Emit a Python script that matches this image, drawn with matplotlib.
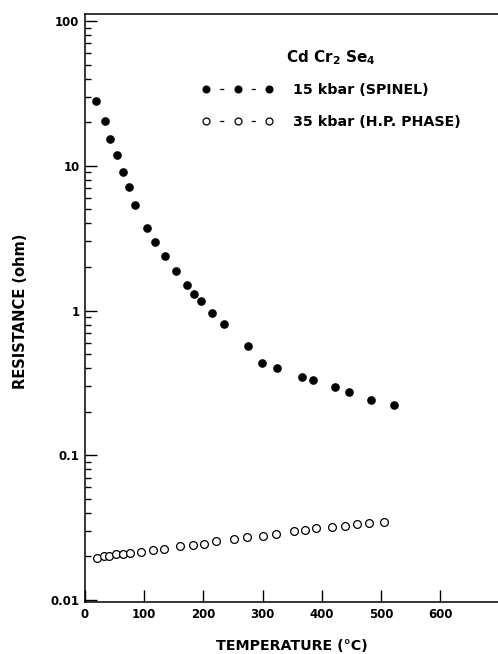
import matplotlib
matplotlib.use("Agg")
import matplotlib.pyplot as plt
from matplotlib.lines import Line2D
from matplotlib.ticker import FixedLocator, FixedFormatter, LogLocator, NullFormatter

# ---- data ----
spinel_T = [18, 34, 42, 54, 64, 75, 85, 105, 118, 135, 153, 173, 185, 196,
            214, 235, 275, 299, 324, 366, 386, 423, 447, 484, 523]
spinel_R = [28.0, 20.5, 15.2, 11.8, 9.06, 7.11, 5.38, 3.71, 2.97, 2.37, 1.87,
            1.49, 1.30, 1.16, 0.965, 0.813, 0.567, 0.435, 0.398, 0.350, 0.331,
            0.296, 0.274, 0.242, 0.223]
hp_T = [20, 32, 41, 53, 65, 76, 94, 115, 134, 160, 183, 201, 222, 252, 273,
        300, 323, 353, 372, 390, 418, 439, 459, 480, 505]
hp_R = [0.0196, 0.0200, 0.0203, 0.0207, 0.0209, 0.0211, 0.0213, 0.0220, 0.0224,
        0.0236, 0.0239, 0.0245, 0.0255, 0.0263, 0.0272, 0.0279, 0.0285, 0.0301,
        0.0307, 0.0314, 0.0322, 0.0326, 0.0334, 0.0340, 0.0348]
x_ticks = [0, 100, 200, 300, 400, 500, 600]
x_labels = ["0", "100", "200", "300", "400", "500", "600"]
y_ticks = [0.01, 0.1, 1, 10, 100]
y_labels = ["0.01", "0.1", "1", "10", "100"]
legend_title = "Cd Cr$_2$ Se$_4$"
label_spinel = "15 kbar (SPINEL)"
label_hp = "35 kbar (H.P. PHASE)"

plt.rcParams['font.family'] = ['DejaVu Sans']
plt.rcParams['font.weight'] = 'bold'
plt.rcParams['mathtext.default'] = 'bf'
plt.rcParams['lines.scale_dashes'] = False

fig = plt.figure(figsize=(4.98, 6.54), dpi=100)
ax = fig.add_axes([85/498, 1-602/654, 1-85/498, (602-14)/654])

ms = 5.2
ax.plot(spinel_T, spinel_R, 'o', color='k', ms=ms, mec='k', linestyle='none')
ax.plot(hp_T, hp_R, 'o', mfc='white', mec='k', mew=0.9, ms=ms+0.4, linestyle='none')

ax.set_yscale('log')
ax.set_xlim(0, 698)
ax.set_ylim(0.00969, 111.8)

ax.xaxis.set_major_locator(FixedLocator(x_ticks))
ax.xaxis.set_major_formatter(FixedFormatter(x_labels))
ax.yaxis.set_major_locator(FixedLocator(y_ticks))
ax.yaxis.set_major_formatter(FixedFormatter(y_labels))
ax.yaxis.set_minor_locator(LogLocator(base=10, subs=range(2, 10)))
ax.yaxis.set_minor_formatter(NullFormatter())
ax.xaxis.set_minor_locator(FixedLocator([]))

ax.tick_params(axis='both', which='major', direction='in', length=8.5, width=1.0,
               labelsize=8.5, colors='k')
ax.tick_params(axis='x', pad=4)
ax.tick_params(axis='y', pad=4)
ax.tick_params(axis='y', which='minor', direction='in', length=4.3, width=1.0)
ax.tick_params(top=False, right=False, which='both')
for lab in ax.get_xticklabels() + ax.get_yticklabels():
    lab.set_fontweight('bold')

ax.spines['right'].set_visible(False)
for s in ['left', 'bottom', 'top']:
    ax.spines[s].set_linewidth(1.1)

ax.set_xlabel("TEMPERATURE (°C)", fontsize=10.3, fontweight='bold')
ax.xaxis.set_label_coords(0.5, -0.063)
ax.set_ylabel("RESISTANCE (ohm)", fontsize=10.5, fontweight='bold')
ax.yaxis.set_label_coords(-0.138, 0.495)

# legend
fs = 10.3
P = 22.7
on = 2.9
dash = (P/2 + on/2, (on, P - on))
h1 = Line2D([], [], color='k', marker='o', ms=4.8, linestyle=dash, lw=0.9)
h2 = Line2D([], [], color='k', marker='o', ms=5.0, mfc='white', mew=0.9,
            linestyle=dash, lw=0.9)
leg = ax.legend([h1, h2], [label_spinel, label_hp], title=legend_title,
                numpoints=3, handlelength=(2*P + 0.6*fs)/fs, handletextpad=1.36,
                frameon=False, fontsize=fs, title_fontsize=11,
                loc='upper left', bbox_to_anchor=((202-85)/413, (602-48)/588),
                borderaxespad=0, borderpad=0, labelspacing=1.2)
for t in leg.get_texts():
    t.set_fontweight('bold')
leg.get_title().set_fontweight('bold')
leg._legend_box.sep = 12

fig.savefig("out.png", dpi=100)
